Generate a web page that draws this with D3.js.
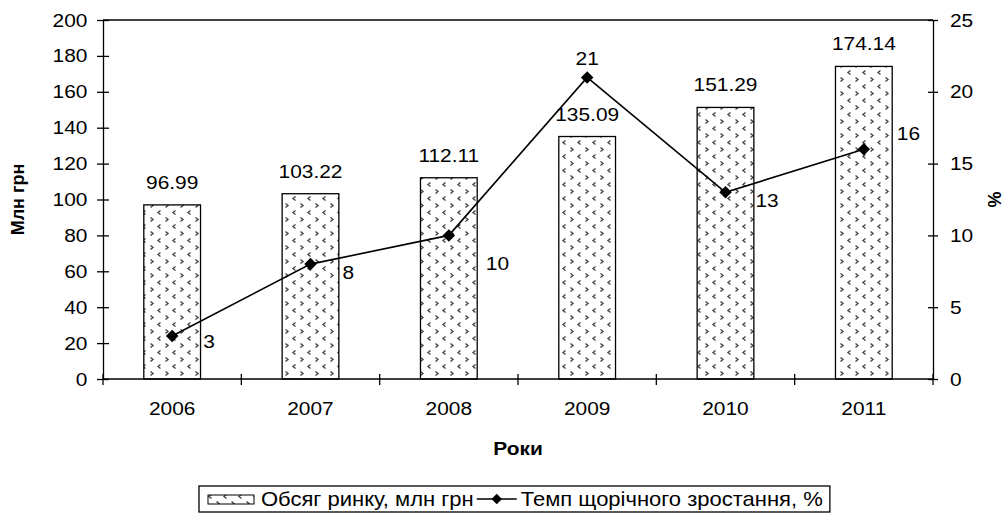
<!DOCTYPE html>
<meta charset="utf-8">
<style>
body { margin: 0; background: #fff; }
text { font-family: "Liberation Sans", Arial, sans-serif; fill: #000; }
.axis path, .axis line { stroke: #000; stroke-width: 1.3px; }
.axis text { font-size: 19px; font-family: "Liberation Sans", Arial, sans-serif; }
</style>
<body>
<script src="https://d3js.org/d3.v7.min.js"></script>
<script>

// data
var years = ["2006", "2007", "2008", "2009", "2010", "2011"];
var volume = [96.99, 103.22, 112.11, 135.09, 151.29, 174.14];
var growth = [3, 8, 10, 21, 13, 16];
var leftTicks = [0, 20, 40, 60, 80, 100, 120, 140, 160, 180, 200];
var rightTicks = [0, 5, 10, 15, 20, 25];
var barName = "Обсяг ринку, млн грн";
var lineName = "Темп щорічного зростання, %";

// hand-placed label nudges for the growth line (dx, dy from the point)
var nudge = [[31, 5], [32, 8], [37, 28], [0, -19], [30, 8], [33, -16]];

var W = 1004, H = 523;
var SX = 1.1; // the source picture is a bit stretched sideways
var margin = {top: 20, right: 71, bottom: 144, left: 103},
    width = W - margin.left - margin.right,
    height = H - margin.top - margin.bottom;

// widen text horizontally around its anchor
function widen(sel) {
  sel.each(function() {
    var t = d3.select(this);
    var tx = +t.attr("x") || 0, ty = +t.attr("y") || 0;
    var prev = t.attr("transform") || "";
    t.attr("x", 0).attr("y", 0)
     .attr("transform", prev + " translate(" + tx + "," + ty + ") scale(" + SX + ",1)");
  });
}

var svg = d3.select("body").append("svg")
    .attr("width", W)
    .attr("height", H);

// the dotted chevron fill
var defs = svg.append("defs");
var pat = defs.append("pattern")
    .attr("id", "chev")
    .attr("patternUnits", "userSpaceOnUse")
    .attr("width", 15).attr("height", 14);
pat.append("rect").attr("width", 15).attr("height", 14).attr("fill", "#fff");
pat.append("path").attr("d", "M2.5,1.5 L5,3.5 L2.5,5.5").attr("fill", "none").attr("stroke", "#444").attr("stroke-width", 1.4);
pat.append("path").attr("d", "M12.5,8.5 L10,10.5 L12.5,12.5").attr("fill", "none").attr("stroke", "#444").attr("stroke-width", 1.4);

var g = svg.append("g")
    .attr("transform", "translate(" + margin.left + "," + margin.top + ")");

var x = d3.scaleBand().domain(years).range([0, width]).paddingInner(0.59).paddingOuter(0.295);
var y = d3.scaleLinear().domain([0, 200]).range([height, 0]);
var y2 = d3.scaleLinear().domain([0, 25]).range([height, 0]);

// frame top
g.append("line").attr("x1", 0).attr("x2", width).attr("y1", 0).attr("y2", 0)
    .attr("stroke", "#000").attr("stroke-width", 1.3);

// bars
g.selectAll(".bar").data(volume).enter().append("rect")
    .attr("x", function(d, i) { return x(years[i]); })
    .attr("y", function(d) { return y(d); })
    .attr("width", x.bandwidth())
    .attr("height", function(d) { return height - y(d); })
    .attr("fill", "url(#chev)")
    .attr("stroke", "#000")
    .attr("stroke-width", 1.3);

g.selectAll(".blab").data(volume).enter().append("text")
    .attr("x", function(d, i) { return x(years[i]) + x.bandwidth() / 2; })
    .attr("y", function(d) { return y(d) - 16; })
    .attr("text-anchor", "middle")
    .style("font-size", "19px")
    .text(function(d) { return d.toFixed(2); })
    .call(widen);

// axes
var cx = function(i) { return x(years[i]) + x.bandwidth() / 2; };

var xAxis = g.append("g").attr("class", "axis")
    .attr("transform", "translate(0," + height + ")")
    .call(d3.axisBottom(x).tickSize(0).tickPadding(23));
xAxis.select(".domain").attr("d", "M0,0H" + width);
xAxis.selectAll(".tick text").call(widen);
var step = x.step();
xAxis.selectAll(".bnd").data(d3.range(years.length + 1)).enter().append("line")
    .attr("x1", function(d) { return d * step; })
    .attr("x2", function(d) { return d * step; })
    .attr("y1", -5).attr("y2", 6)
    .attr("stroke", "#000").attr("stroke-width", 1.3);

var yAxis = g.append("g").attr("class", "axis")
    .call(d3.axisLeft(y).tickValues(leftTicks).tickSizeInner(6).tickSizeOuter(0).tickPadding(9.5));
yAxis.selectAll(".tick line").attr("x2", 6).attr("x1", -6);
yAxis.selectAll(".tick text").call(widen);

var yAxis2 = g.append("g").attr("class", "axis")
    .attr("transform", "translate(" + width + ",0)")
    .call(d3.axisRight(y2).tickValues(rightTicks).tickSizeInner(6).tickSizeOuter(0).tickPadding(11));
yAxis2.selectAll(".tick line").attr("x1", -5).attr("x2", 5);
yAxis2.selectAll(".tick text").call(widen);

// growth line
var line = d3.line()
    .x(function(d, i) { return cx(i); })
    .y(function(d) { return y2(d); });

g.append("path")
    .datum(growth)
    .attr("d", line)
    .attr("fill", "none")
    .attr("stroke", "#000")
    .attr("stroke-width", 1.6);

var diamond = d3.symbol().type(d3.symbolDiamond2).size(100);
g.selectAll(".pt").data(growth).enter().append("path")
    .attr("d", diamond)
    .attr("transform", function(d, i) { return "translate(" + cx(i) + "," + y2(d) + ")"; })
    .attr("fill", "#000");

g.selectAll(".llab").data(growth).enter().append("text")
    .attr("x", function(d, i) { return cx(i) + nudge[i][0]; })
    .attr("y", function(d, i) { return y2(d) + nudge[i][1]; })
    .attr("dy", "0.35em")
    .attr("text-anchor", function(d, i) { return nudge[i][0] === 0 ? "middle" : "start"; })
    .style("font-size", "19px")
    .text(function(d) { return d; })
    .call(widen);

// axis titles
svg.append("text")
    .attr("transform", "translate(24," + (margin.top + height / 2) + ") rotate(-90)")
    .attr("text-anchor", "middle")
    .style("font-size", "18px").style("font-weight", "bold")
    .text("Млн грн");

svg.append("text")
    .attr("transform", "translate(1001," + (margin.top + height / 2) + ") rotate(-90)")
    .attr("text-anchor", "middle")
    .style("font-size", "18px").style("font-weight", "bold")
    .text("%");

svg.append("text")
    .attr("x", margin.left + width / 2).attr("y", 455)
    .attr("text-anchor", "middle")
    .style("font-size", "19px").style("font-weight", "bold")
    .text("Роки")
    .call(widen);

// legend, laid out from the measured text widths
var lg = svg.append("g").attr("transform", "translate(199,486)");
var box = lg.append("rect").attr("height", 26)
    .attr("fill", "#fff").attr("stroke", "#000").attr("stroke-width", 1.3);
lg.append("rect").attr("x", 9).attr("y", 9).attr("width", 46).attr("height", 9)
    .attr("fill", "url(#chev)").attr("stroke", "#000").attr("stroke-width", 1);
var t1 = lg.append("text").attr("x", 62).attr("y", 20).style("font-size", "20px").text(barName);
var e1 = 62 + t1.node().getComputedTextLength() * SX;
t1.call(widen);
var lx = e1 + 3;
lg.append("line").attr("x1", lx).attr("x2", lx + 40).attr("y1", 13).attr("y2", 13)
    .attr("stroke", "#000").attr("stroke-width", 1.6);
lg.append("path").attr("d", d3.symbol().type(d3.symbolDiamond2).size(70))
    .attr("transform", "translate(" + (lx + 20) + ",13)").attr("fill", "#000");
var t2 = lg.append("text").attr("x", lx + 44).attr("y", 20).style("font-size", "20px").text(lineName);
var e2 = lx + 44 + t2.node().getComputedTextLength() * SX;
t2.call(widen);
box.attr("width", e2 + 7);

</script>
</body>
